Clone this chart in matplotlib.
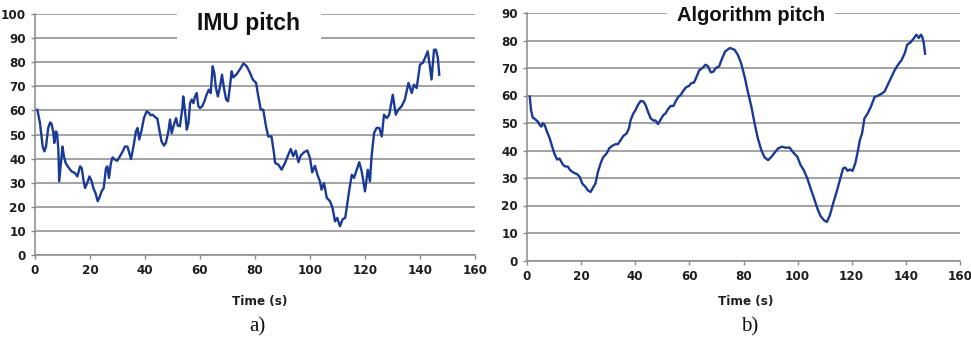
import matplotlib
matplotlib.use("Agg")
import matplotlib.pyplot as plt
from matplotlib import font_manager

# IMU pitch (degrees) against time (s)
imu_t = [0.85, 1.8, 2.8, 3.4, 4.0, 4.8, 5.5, 6.0, 6.7, 7.0, 7.6, 8.0, 8.5, 8.8, 9.3,
         10.0, 10.5, 11.2, 12.4, 13.3, 14.5, 15.4, 16.4, 17.0, 17.6, 18.2, 19.0, 19.8,
         20.6, 21.2, 22.0, 22.8, 23.6, 24.2, 25.0, 25.8, 26.3, 26.9, 27.6, 28.2, 29.0,
         29.9, 30.9, 31.9, 32.7, 33.6, 34.3, 34.9, 35.8, 36.7, 37.3, 37.9, 38.8, 39.6,
         40.6, 41.5, 42.0, 42.8, 43.6, 44.5, 45.2, 46.0, 46.9, 47.6, 48.5, 49.1, 49.7,
         50.5, 51.3, 51.9, 52.7, 53.6, 53.9, 54.5, 55.2, 55.8, 56.4, 57.0, 57.6, 58.2,
         58.8, 59.4, 60.0, 60.8, 61.6, 62.4, 63.2, 63.9, 64.6, 65.2, 65.8, 66.5, 67.3,
         68.0, 68.7, 69.5, 70.2, 70.9, 71.5, 72.1, 73.3, 74.5, 75.8, 77.0, 78.2, 79.2,
         80.4, 81.2, 82.1, 83.0, 84.0, 84.8, 86.0, 86.9, 87.3, 88.5, 89.7, 90.9, 92.1,
         93.0, 93.9, 94.8, 95.8, 96.6, 97.8, 99.0, 100.0, 100.8, 101.8, 102.7, 103.6,
         104.2, 105.1, 106.1, 107.3, 108.2, 109.1, 109.9, 110.9, 111.9, 112.8, 113.6,
         114.3, 115.2, 116.0, 117.0, 117.9, 118.8, 120.0, 121.0, 121.8, 122.4, 123.3,
         124.2, 125.2, 126.1, 126.9, 127.9, 128.8, 130.1, 131.2, 132.1, 133.3, 134.5,
         135.8, 137.0, 137.8, 138.8, 140.0, 141.0, 141.8, 142.8, 143.6, 144.2, 145.1,
         145.8, 146.5, 147.0]
imu_pitch = [60.3, 54.8, 45.0, 43.0, 45.0, 52.7, 55.0, 54.5, 50.6, 46.5, 51.3, 50.5, 43.7,
             30.6, 36.8, 45.0, 41.0, 38.0, 36.0, 34.7, 34.0, 32.6, 36.8, 36.0, 31.3, 27.8,
             29.9, 32.6, 30.6, 27.8, 25.7, 22.3, 24.3, 26.4, 27.8, 36.0, 36.8, 32.0, 38.2,
             40.5, 39.6, 39.1, 41.0, 43.0, 45.0, 45.0, 42.3, 39.8, 45.0, 51.3, 52.7, 47.9,
             52.0, 56.8, 59.6, 58.9, 58.0, 58.2, 57.3, 56.6, 52.0, 47.2, 45.4, 46.5, 51.3,
             56.2, 50.6, 54.0, 56.8, 53.7, 53.4, 61.0, 65.8, 60.3, 52.0, 54.8, 63.0, 64.5,
             63.0, 65.8, 67.2, 61.7, 61.0, 61.7, 63.8, 66.5, 68.6, 67.2, 78.3, 75.5, 69.3,
             65.8, 70.0, 74.8, 69.3, 64.5, 63.8, 70.0, 76.2, 73.7, 75.0, 77.0, 79.5, 78.3,
             75.5, 72.8, 71.4, 65.8, 60.3, 60.3, 53.4, 49.2, 49.2, 42.3, 38.2, 37.5, 35.4,
             38.2, 41.6, 44.0, 41.0, 43.3, 38.5, 41.2, 42.6, 43.4, 40.2, 34.3, 37.0, 33.3,
             30.6, 27.1, 29.9, 23.7, 22.3, 19.5, 14.0, 15.4, 11.9, 14.9, 15.4, 21.6, 27.1,
             33.3, 32.0, 35.4, 38.5, 34.7, 26.4, 35.4, 30.6, 41.0, 50.6, 52.7, 52.7, 49.2,
             58.2, 56.8, 58.2, 66.5, 58.2, 60.3, 61.7, 64.5, 71.4, 67.2, 70.7, 69.3, 79.0,
             79.7, 81.7, 84.5, 78.3, 72.8, 85.2, 85.2, 81.7, 74.8]

# Algorithm pitch (degrees) against time (s)
alg_t = [1.0, 1.5, 2.1, 3.1, 4.0, 4.7, 5.3, 5.9, 6.5, 7.4, 8.4, 9.3, 10.1, 11.1, 12.0,
         13.0, 13.8, 15.1, 16.0, 17.3, 18.5, 19.5, 20.4, 21.6, 22.5, 23.5, 24.4, 25.3,
         26.2, 27.2, 28.1, 29.4, 30.4, 31.5, 32.7, 33.6, 34.6, 35.6, 36.8, 37.7, 38.3,
         39.3, 40.1, 41.0, 42.0, 43.0, 43.8, 44.7, 45.7, 46.7, 47.5, 48.4, 49.4, 50.4,
         51.2, 52.1, 53.1, 54.1, 54.9, 55.8, 56.8, 57.8, 58.8, 59.9, 60.7, 61.7, 62.7,
         63.6, 64.8, 66.0, 66.9, 67.9, 68.9, 69.8, 71.0, 71.9, 73.2, 75.0, 76.7, 77.9,
         79.1, 80.4, 81.6, 82.9, 84.1, 85.3, 86.6, 87.8, 89.1, 90.3, 91.5, 92.8, 94.3,
         95.5, 97.0, 98.2, 99.9, 101.1, 102.3, 103.6, 104.8, 106.1, 107.3, 108.5, 109.8,
         110.8, 111.9, 113.1, 114.4, 115.6, 116.8, 117.6, 118.5, 119.3, 120.3, 121.3,
         122.2, 123.0, 123.8, 124.7, 125.9, 127.1, 128.4, 129.6, 130.9, 132.1, 133.3,
         134.6, 135.8, 137.1, 138.3, 139.6, 140.5, 141.7, 142.7, 143.9, 144.8, 145.5,
         146.0, 146.6, 147.1]
alg_pitch = [59.6, 54.7, 52.0, 51.3, 50.5, 49.3, 48.7, 49.9, 49.3, 46.8, 44.4, 41.4, 38.9,
             36.7, 37.1, 35.3, 34.3, 34.1, 32.8, 31.9, 31.4, 30.4, 28.0, 26.8, 25.5, 24.9,
             26.5, 28.0, 32.2, 35.3, 37.5, 38.9, 40.8, 41.7, 42.3, 42.3, 43.8, 45.3, 46.2,
             48.1, 51.1, 53.5, 54.7, 56.6, 58.0, 57.8, 56.6, 54.1, 51.7, 50.9, 50.9, 49.6,
             51.3, 52.9, 53.5, 55.0, 56.2, 56.2, 57.8, 59.4, 60.2, 61.8, 63.0, 63.5, 64.5,
             64.7, 66.9, 69.1, 70.0, 71.2, 70.6, 68.4, 68.7, 70.0, 70.6, 73.0, 76.0, 77.3,
             76.6, 74.8, 71.8, 66.9, 61.4, 56.0, 49.9, 44.4, 40.1, 37.5, 36.5, 37.7, 39.2,
             40.8, 41.4, 41.0, 41.1, 39.5, 37.7, 34.7, 32.8, 29.8, 26.2, 22.5, 18.9, 16.1,
             14.6, 14.0, 16.4, 20.7, 24.9, 29.2, 33.5, 33.8, 32.6, 33.1, 32.6, 35.3, 39.5,
             43.8, 46.2, 51.7, 53.5, 56.0, 59.4, 59.9, 60.6, 61.4, 63.9, 66.7, 69.1, 71.2,
             72.7, 75.4, 78.5, 79.3, 80.5, 82.1, 80.9, 82.1, 81.5, 79.1, 75.2]

x_ticks = [0, 20, 40, 60, 80, 100, 120, 140, 160]
imu_y_ticks = [0, 10, 20, 30, 40, 50, 60, 70, 80, 90, 100]
alg_y_ticks = [0, 10, 20, 30, 40, 50, 60, 70, 80, 90]
x_label = "Time (s)"


def pick_condensed():
    """Return (family, stretch) for a condensed sans face, if one is installed."""
    for f in font_manager.fontManager.ttflist:
        name = f.name.lower()
        stretch = str(f.stretch).lower()
        if ("narrow" in name or "condensed" in name or "condensed" in stretch) and \
                "mono" not in name and "serif" not in name.replace("sans", ""):
            return f.name, f.stretch
    return None, None


cond_family, cond_stretch = pick_condensed()
if cond_family:
    tick_family = [cond_family, "DejaVu Sans"]
    tick_size = 9.5
else:
    tick_family = ["Liberation Sans", "DejaVu Sans"]
    tick_size = 8.5

plt.rcParams["font.family"] = ["Liberation Sans", "DejaVu Sans"]

LINE = "#1a3a98"
GRID = "#8a8a8a"
TEXT = "#1e1e1e"

fig = plt.figure(figsize=(9.71, 3.41), dpi=100)
fig.patch.set_facecolor("white")

ax_a = fig.add_axes([35 / 971, 1 - 255 / 341, 440 / 971, 241 / 341])
ax_b = fig.add_axes([527 / 971, 1 - 260.5 / 341, 433 / 971, 247.5 / 341])


def style(ax, yticks):
    ax.set_xlim(0, 160)
    ax.set_ylim(yticks[0], yticks[-1])
    ax.set_xticks(x_ticks)
    ax.set_yticks(yticks)
    ax.set_xticklabels([str(v) for v in x_ticks])
    ax.set_yticklabels([str(v) for v in yticks])
    for side in ("top", "right"):
        ax.spines[side].set_visible(False)
    for side in ("left", "bottom"):
        ax.spines[side].set_color(GRID)
        ax.spines[side].set_linewidth(1.1)
    ax.yaxis.grid(True, color=GRID, linewidth=1.1)
    ax.set_axisbelow(True)
    ax.tick_params(axis="both", direction="out", length=3, width=1, color=GRID,
                   labelcolor=TEXT, pad=3.5)
    for lbl in ax.get_xticklabels() + ax.get_yticklabels():
        lbl.set_family(tick_family)
        lbl.set_fontsize(tick_size)
        lbl.set_fontweight("bold")
        if cond_stretch is not None:
            lbl.set_stretch(cond_stretch)


style(ax_a, imu_y_ticks)
style(ax_b, alg_y_ticks)

ax_a.plot(imu_t, imu_pitch, color=LINE, linewidth=1.7, solid_joinstyle="round", zorder=3)
ax_b.plot(alg_t, alg_pitch, color=LINE, linewidth=1.7, solid_joinstyle="round", zorder=3)

# axis titles below each panel
xlab_kw = dict(ha="center", va="center", fontsize=9.5, fontweight="bold", color=TEXT,
               family=tick_family)
if cond_stretch is not None:
    xlab_kw["fontstretch"] = cond_stretch
fig.text(260 / 971, 1 - 302 / 341, x_label, **xlab_kw)
fig.text(746 / 971, 1 - 301 / 341, x_label, **xlab_kw)

title_font = ["Liberation Sans", "DejaVu Sans"]
ax_a.text(0.486, 0.962, "IMU pitch", transform=ax_a.transAxes, ha="center", va="center",
          fontsize=16.5, fontweight="bold", family=title_font, color="#111111", zorder=4,
          bbox=dict(boxstyle="square,pad=0.9", facecolor="white", edgecolor="none"))
ax_b.text(0.517, 0.99, "Algorithm pitch", transform=ax_b.transAxes, ha="center", va="center",
          fontsize=14.5, fontweight="bold", family=title_font, color="#111111", zorder=4,
          bbox=dict(boxstyle="square,pad=0.5", facecolor="white", edgecolor="none"))

serif = ["Liberation Serif", "DejaVu Serif"]
fig.text(257 / 971, 1 - 327 / 341, "a)", ha="center", va="center", fontsize=15,
         family=serif, color="#111111")
fig.text(750 / 971, 1 - 327 / 341, "b)", ha="center", va="center", fontsize=15,
         family=serif, color="#111111")

fig.savefig("out.png", dpi=100, facecolor="white")
